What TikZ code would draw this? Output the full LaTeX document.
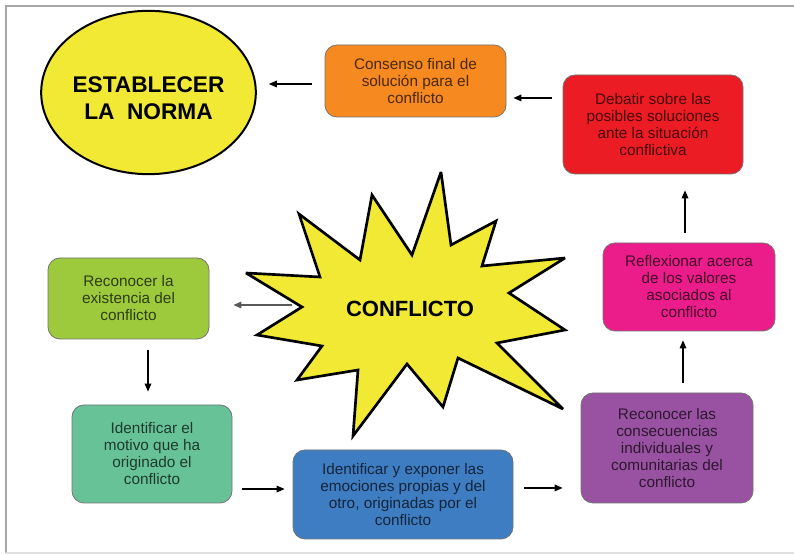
\documentclass[tikz,border=0pt]{standalone}
\usepackage{fontspec}
\setmainfont{Liberation Sans}
\usepackage{xcolor}
\usetikzlibrary{positioning, arrows.meta, shapes.geometric}

\definecolor{starY}{HTML}{F1E934}
\definecolor{cOrange}{HTML}{F6891F}
\definecolor{cRed}{HTML}{EC1C24}
\definecolor{cPink}{HTML}{EB1D8A}
\definecolor{cPurple}{HTML}{9852A1}
\definecolor{cBlue}{HTML}{3F7DC3}
\definecolor{cGreen}{HTML}{9DCA3D}
\definecolor{cTeal}{HTML}{67C397}

\begin{document}
\begin{tikzpicture}[x=0.75pt, y=-0.75pt,
    stepbox/.style={draw=black!55, line width=0.6pt, rounded corners=9pt, fill=#1, text=#1!30!black,
        align=center, inner sep=2pt, font=\fontsize{11.5}{12.75}\selectfont},
    bigtext/.style={font=\fontsize{17}{20}\selectfont\bfseries, align=center},
    arr/.style={-{Triangle[length=6pt,width=5pt]}, line width=0.9pt}
]
\useasboundingbox (0,0) rectangle (794,555);
\draw[gray!70, line width=1.5pt] (794,6) -- (6,6) -- (6,553);
\draw[gray!25, line width=0.8pt] (6,553) -- (794,553);

\node[ellipse, draw, line width=1.5pt, fill=starY, inner sep=0pt, minimum width=161pt, minimum height=122.5pt]
    (norma) at (148.5,92.5) {};
\node[bigtext] (normatext) at ([yshift=-4.5pt]norma.center) {ESTABLECER\\LA\ \ NORMA};

\draw[line width=2pt, fill=starY, miter limit=4]
    (441,172) -- (451,245) -- (496,221) -- (482,266) -- (565,258) -- (509,293) -- (565,330) -- (497,343)
    -- (563,409) -- (458,358) -- (443,407) -- (407,364) -- (353,436) -- (358,370) -- (297,380) -- (322,346)
    -- (257,335) -- (302,307) -- (246,273) -- (320,277) -- (299,214) -- (360,260) -- (372,195) -- (412,255) -- cycle;
\node[bigtext, font=\fontsize{16.5}{20}\selectfont\bfseries] (conflicto) at (410,309) {CONFLICTO};
\coordinate (starW) at (302,305);

\node[stepbox=cOrange, minimum width=135.75pt, minimum height=54pt] (consenso) at (415.5,81)
    {Consenso final de\\solución para el\\conflicto};
\node[stepbox=cRed, minimum width=135pt, minimum height=74.25pt] (debatir) at (653,124.5)
    {Debatir sobre las\\posibles soluciones\\ante la situación\\conflictiva};
\node[stepbox=cPink, minimum width=129pt, minimum height=66pt] (reflexionar) at (689,287)
    {Reflexionar acerca\\de los valores\\asociados al\\conflicto};
\node[stepbox=cPurple, minimum width=129pt, minimum height=82.5pt] (consecuencias) at (667,448)
    {Reconocer las\\consecuencias\\individuales y\\comunitarias del\\conflicto};
\node[stepbox=cBlue, minimum width=165pt, minimum height=66.75pt] (emociones) at (403,494.5)
    {Identificar y exponer las\\emociones propias y del\\otro, originadas por el\\conflicto};
\node[stepbox=cGreen, minimum width=120.75pt, minimum height=60.75pt] (existencia) at (128.5,298.5)
    {Reconocer la\\existencia del\\conflicto};
\node[stepbox=cTeal, minimum width=120pt, minimum height=73.5pt] (motivo) at (152,454)
    {Identificar el\\motivo que ha\\originado el\\conflicto};

\draw[arr, shorten <=9.75pt, shorten >=9pt] ([yshift=-2.25pt]consenso.west) -- ([yshift=-2.25pt]consenso.west -| norma.east);
\draw[arr, shorten <=8.25pt, shorten >=5.25pt] ([yshift=19.9pt]debatir.west) -- ([yshift=19.9pt]debatir.west -| consenso.east);
\draw[arr, shorten <=7.5pt, shorten >=12pt] ([xshift=-3pt]reflexionar.north) -- ([xshift=-3pt]reflexionar.north |- debatir.south);
\draw[arr, shorten <=7.5pt, shorten >=6.75pt] ([xshift=-4.5pt]reflexionar.south |- consecuencias.north) -- ([xshift=-4.5pt]reflexionar.south);
\draw[arr, shorten <=8.25pt, shorten >=13.5pt] ([yshift=4.9pt]emociones.east) -- ([yshift=4.9pt]emociones.east -| consecuencias.west);
\draw[arr, shorten <=7.5pt, shorten >=6pt] ([yshift=4.1pt]emociones.west -| motivo.east) -- ([yshift=4.1pt]emociones.west);
\draw[arr, shorten <=8.25pt, shorten >=9.75pt] ([xshift=-3pt]motivo.north |- existencia.south) -- ([xshift=-3pt]motivo.north);
\draw[arr, black!65, shorten <=7.5pt, shorten >=18pt] (starW) -- (starW -| existencia.east);
\end{tikzpicture}
\end{document}
